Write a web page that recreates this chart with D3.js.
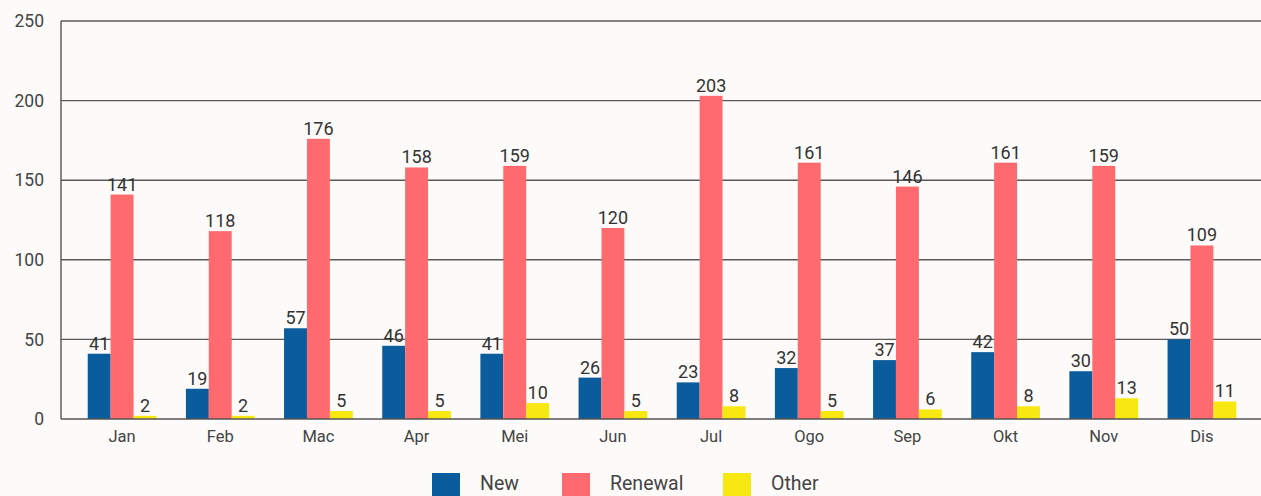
<!DOCTYPE html>
<html>
<head>
<meta charset="utf-8">
<script src="https://cdn.jsdelivr.net/npm/d3@7"></script>
<style>
  html, body { margin: 0; padding: 0; background: #fdfbf9; }
  svg { display: block; font-family: Roboto, "Noto Sans", sans-serif; }
</style>
</head>
<body>
<svg id="chart" width="1261" height="496"></svg>
<script>
// Monthly counts by application type
const months = ["Jan", "Feb", "Mac", "Apr", "Mei", "Jun", "Jul", "Ogo", "Sep", "Okt", "Nov", "Dis"];
const seriesNames = ["New", "Renewal", "Other"];
const newValues = [41, 19, 57, 46, 41, 26, 23, 32, 37, 42, 30, 50];
const renewalValues = [141, 118, 176, 158, 159, 120, 203, 161, 146, 161, 159, 109];
const otherValues = [2, 2, 5, 5, 10, 5, 8, 5, 6, 8, 13, 11];
const yTicks = [0, 50, 100, 150, 200, 250];
const colors = ["#0b5c9d", "#fe6a6d", "#f7e812"];

const seriesValues = [newValues, renewalValues, otherValues];
const rows = months.map((m, i) => ({
  month: m,
  values: seriesNames.map((s, k) => ({ key: s, value: seriesValues[k][i], k }))
}));

const svg = d3.select("#chart");
const plotLeft = 61, plotRight = 1261, plotTop = 21, plotBottom = 419;

const x = d3.scaleBand().domain(months).range([73, 1251]).paddingInner(0.3).paddingOuter(0.15);
const xInner = d3.scaleBand().domain(seriesNames).range([0, x.bandwidth()]);
const y = d3.scaleLinear().domain([0, 250]).range([plotBottom, plotTop]);

// horizontal gridlines
svg.append("g")
  .selectAll("line")
  .data(yTicks.filter(t => t > 0))
  .join("line")
  .attr("x1", plotLeft).attr("x2", plotRight)
  .attr("y1", d => y(d)).attr("y2", d => y(d))
  .attr("stroke", "#5a5a5a").attr("stroke-width", 1.4);

// y axis labels
const yAxis = svg.append("g")
  .attr("transform", `translate(${plotLeft},0)`)
  .call(d3.axisLeft(y).tickValues(yTicks).tickSize(0).tickPadding(17));
yAxis.select(".domain").remove();
yAxis.selectAll("text")
  .attr("fill", "#444").attr("font-size", 17.5).attr("font-family", "Roboto");

// bars
const groups = svg.append("g")
  .selectAll("g")
  .data(rows)
  .join("g")
  .attr("transform", d => `translate(${x(d.month)},0)`);

groups.selectAll("rect")
  .data(d => d.values)
  .join("rect")
  .attr("x", d => xInner(d.key))
  .attr("width", xInner.bandwidth())
  .attr("y", d => y(d.value))
  .attr("height", d => y(0) - y(d.value))
  .attr("fill", d => colors[d.k]);

// value labels
groups.selectAll("text")
  .data(d => d.values)
  .join("text")
  .attr("x", d => xInner(d.key) + xInner.bandwidth() / 2)
  .attr("y", d => y(d.value) - 4)
  .attr("text-anchor", "middle")
  .attr("font-size", 18)
  .attr("fill", "#333")
  .text(d => d.value);

// axes lines
svg.append("line")
  .attr("x1", plotLeft).attr("x2", plotLeft).attr("y1", plotTop).attr("y2", plotBottom)
  .attr("stroke", "#555").attr("stroke-width", 1.4);
svg.append("line")
  .attr("x1", plotLeft).attr("x2", plotRight).attr("y1", plotBottom).attr("y2", plotBottom)
  .attr("stroke", "#555").attr("stroke-width", 1.6);

// x axis labels
const xAxis = svg.append("g")
  .attr("transform", `translate(0,${plotBottom})`)
  .call(d3.axisBottom(x).tickSize(0).tickPadding(11));
xAxis.select(".domain").remove();
xAxis.selectAll("text")
  .attr("fill", "#444").attr("font-size", 16.5).attr("font-family", "Roboto");

// legend
const legendX = [432, 562, 723];
const legend = svg.append("g")
  .selectAll("g")
  .data(seriesNames)
  .join("g")
  .attr("transform", (d, i) => `translate(${legendX[i]},473)`);
legend.append("rect")
  .attr("width", 28).attr("height", 23)
  .attr("fill", (d, i) => colors[i]);
legend.append("text")
  .attr("x", 48).attr("y", 17)
  .attr("font-size", 19.5).attr("fill", "#444")
  .text(d => d);
</script>
</body>
</html>
